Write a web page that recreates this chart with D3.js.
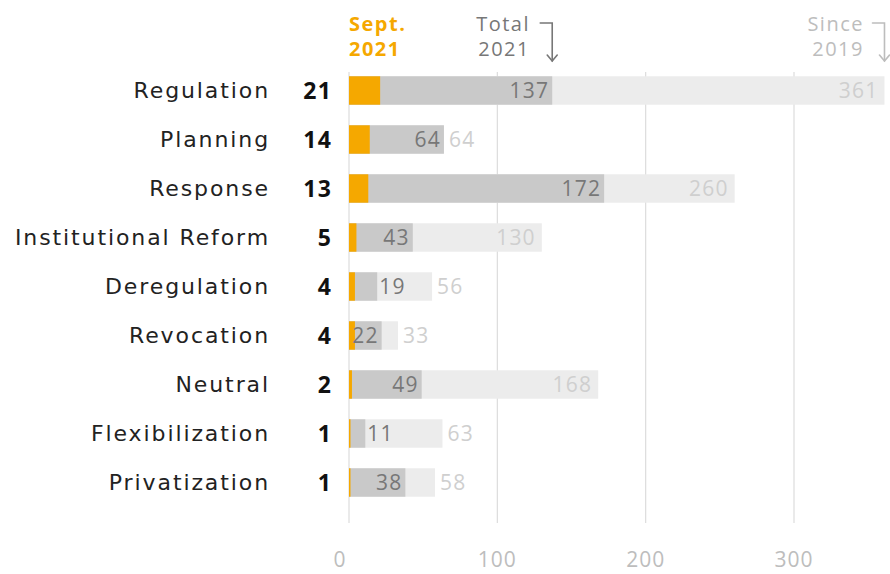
<!DOCTYPE html>
<html>
<head>
<meta charset="utf-8">
<script src="https://cdn.jsdelivr.net/npm/d3@7"></script>
<style>
  html, body { margin: 0; padding: 0; background: #fff; }
  svg { display: block; font-family: "Open Sans", "Noto Sans", sans-serif; }
</style>
</head>
<body>
<div id="chart"></div>
<script>
// data
var categories = ["Regulation", "Planning", "Response", "Institutional Reform", "Deregulation",
                  "Revocation", "Neutral", "Flexibilization", "Privatization"];
var sept2021 = [21, 14, 13, 5, 4, 4, 2, 1, 1];
var total2021 = [137, 64, 172, 43, 19, 22, 49, 11, 38];
var since2019 = [361, 64, 260, 130, 56, 33, 168, 63, 58];
var xTicks = [0, 100, 200, 300];

var W = 890, H = 574;
var ORANGE = "#f5a800", DARK = "#c9c9c9", LIGHT = "#ececec";

var svg = d3.select("#chart").append("svg")
  .attr("width", W).attr("height", H);

var x = d3.scaleLinear().domain([0, 300]).range([349, 794]);
var y = d3.scaleBand().domain(categories).range([66, 507]).paddingInner(0.42).paddingOuter(0.21);

var rows = categories.map(function (c, i) {
  return { cat: c, sept: sept2021[i], total: total2021[i], since: since2019[i] };
});

// ── Grid ────────────────────────────────────────────────
svg.append("g").selectAll("line")
  .data(xTicks).join("line")
  .attr("x1", function (d) { return x(d); }).attr("x2", function (d) { return x(d); })
  .attr("y1", 72).attr("y2", 523)
  .attr("stroke", "#dcdcdc").attr("stroke-width", 1.2);

svg.append("g").selectAll("text")
  .data(xTicks).join("text")
  .attr("x", function (d) { return x(d) + (d === 0 ? -9 : 0); })
  .attr("y", 567)
  .attr("text-anchor", "middle")
  .attr("font-size", "21px")
  .attr("letter-spacing", "1px")
  .attr("fill", "#bdbdbd")
  .text(function (d) { return d; });

// ── Bars ────────────────────────────────────────────────
var rowG = svg.append("g").selectAll("g")
  .data(rows).join("g")
  .attr("transform", function (d) { return "translate(0," + y(d.cat) + ")"; });

var bh = y.bandwidth();

rowG.append("rect")
  .attr("x", x(0)).attr("width", function (d) { return x(d.since) - x(0); })
  .attr("height", bh).attr("fill", LIGHT);

rowG.append("rect")
  .attr("x", x(0)).attr("width", function (d) { return x(d.total) - x(0); })
  .attr("height", bh).attr("fill", DARK);

rowG.append("rect")
  .attr("x", x(0)).attr("width", function (d) { return x(d.sept) - x(0); })
  .attr("height", bh).attr("fill", ORANGE);

// value labels: inside the bar end when it fits, otherwise just after it
rowG.append("text")
  .attr("x", function (d) { return d.total >= 20 ? x(d.total) - 3 : x(d.total) + 2; })
  .attr("y", bh / 2).attr("dy", "0.36em")
  .attr("text-anchor", function (d) { return d.total >= 20 ? "end" : "start"; })
  .attr("font-size", "21px").attr("letter-spacing", "1.2px").attr("fill", "#777")
  .text(function (d) { return d.total; });

rowG.append("text")
  .attr("x", function (d) {
    return d.since - d.total >= 60 ? x(d.since) - 6 : x(d.since) + 5;
  })
  .attr("y", bh / 2).attr("dy", "0.36em")
  .attr("text-anchor", function (d) { return d.since - d.total >= 60 ? "end" : "start"; })
  .attr("font-size", "21px").attr("letter-spacing", "1.2px").attr("fill", "#cfcfcf")
  .text(function (d) { return d.since; });

// category + sept numbers
rowG.append("text")
  .attr("x", 270).attr("y", bh / 2).attr("dy", "0.36em")
  .attr("text-anchor", "end")
  .attr("font-family", "'DejaVu Sans', sans-serif")
  .attr("font-size", "22px").attr("fill", "#222")
  .attr("letter-spacing", "1.9px")
  .text(function (d) { return d.cat; });

rowG.append("text")
  .attr("x", 332).attr("y", bh / 2).attr("dy", "0.36em")
  .attr("text-anchor", "end")
  .attr("font-size", "23px").attr("font-weight", "700").attr("fill", "#111")
  .attr("letter-spacing", "1.2px")
  .text(function (d) { return d.sept; });

// ── Header ──────────────────────────────────────────────
var hdr = svg.append("g").attr("font-size", "20px").attr("letter-spacing", "1.5px");

hdr.append("text").attr("x", 349).attr("y", 31)
  .attr("font-weight", "700").attr("fill", ORANGE).text("Sept.");
hdr.append("text").attr("x", 349).attr("y", 56)
  .attr("font-weight", "700").attr("fill", ORANGE).text("2021");

hdr.append("text").attr("x", 530).attr("y", 31)
  .attr("text-anchor", "end").attr("fill", "#777").text("Total");
hdr.append("text").attr("x", 530).attr("y", 56)
  .attr("text-anchor", "end").attr("fill", "#777").text("2021");

hdr.append("text").attr("x", 864).attr("y", 31)
  .attr("text-anchor", "end").attr("fill", "#bdbdbd").text("Since");
hdr.append("text").attr("x", 864).attr("y", 56)
  .attr("text-anchor", "end").attr("fill", "#bdbdbd").text("2019");

function arrow(ax, color) {
  var g = svg.append("g").attr("fill", "none").attr("stroke", color)
    .attr("stroke-width", 1.6).attr("stroke-linecap", "round");
  g.append("path").attr("d", "M" + (ax - 12) + ",23 H" + ax + " V61");
  g.append("path").attr("d", "M" + (ax - 5) + ",55 L" + ax + ",61 L" + (ax + 5) + ",55");
}
arrow(x(137), "#777");
arrow(x(361), "#bdbdbd");
</script>
</body>
</html>
